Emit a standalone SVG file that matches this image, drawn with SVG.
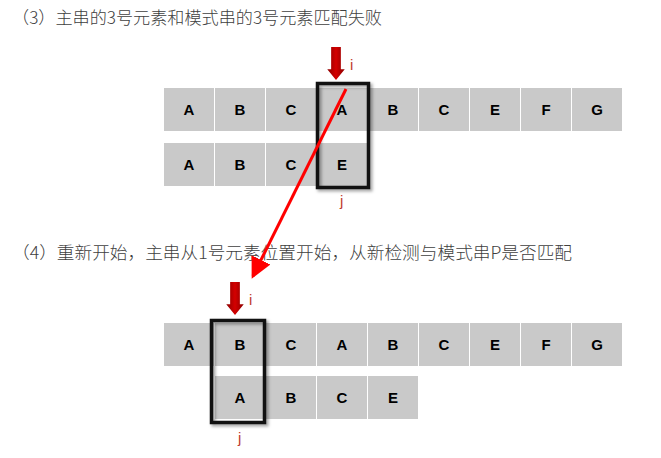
<svg xmlns="http://www.w3.org/2000/svg" width="661" height="458" viewBox="0 0 661 458">
<defs>
<style>
.title{font-family:"Noto Sans CJK SC","Microsoft YaHei",sans-serif;font-size:17px;font-weight:300;fill:#404040}
.cell rect{fill:#c9c9c9}
.cell text{font-family:"Liberation Sans",Arial,sans-serif;font-size:15px;font-weight:bold;fill:#000;text-anchor:middle}
.box{fill:none;stroke:#111;stroke-width:3.5}
.shadow{fill:none;stroke:#000;stroke-opacity:0.35;stroke-width:4;filter:url(#blur)}
.lbl{font-family:"Liberation Sans",Arial,sans-serif;font-size:15px;fill:#c0392b}
.down{fill:url(#redgrad)}
</style>
<linearGradient id="redgrad" x1="0" y1="0" x2="1" y2="0">
<stop offset="0" stop-color="#8b0000"/>
<stop offset="0.5" stop-color="#d40000"/>
<stop offset="1" stop-color="#8b0000"/>
</linearGradient>
<filter id="blur" x="-20%" y="-20%" width="140%" height="140%"><feGaussianBlur stdDeviation="1.5"/></filter>
<marker id="ah" markerWidth="8" markerHeight="8" refX="6" refY="4" orient="auto" markerUnits="strokeWidth">
<path d="M0,0.5 L7,4 L0,7.5 Z" fill="#ff0000"/>
</marker>
<symbol id="dn" viewBox="0 0 18 34" overflow="visible">
<path d="M4,0 H14 V23 H18 L9,34 L0,23 H4 Z"/>
</symbol>
</defs>
<rect width="661" height="458" fill="#fff"/>

<text class="title" x="12" y="24" textLength="370" lengthAdjust="spacingAndGlyphs">（3）主串的3号元素和模式串的3号元素匹配失败</text>
<text class="title" x="12" y="259" textLength="560" lengthAdjust="spacingAndGlyphs">（4）重新开始，主串从1号元素位置开始，从新检测与模式串P是否匹配</text>

<g id="main1" class="cell">
<rect x="164" y="88" width="50" height="43"/><text x="189" y="115">A</text>
<rect x="215" y="88" width="50" height="43"/><text x="240" y="115">B</text>
<rect x="266" y="88" width="50" height="43"/><text x="291" y="115">C</text>
<rect x="317" y="88" width="50" height="43"/><text x="342" y="115">A</text>
<rect x="368" y="88" width="50" height="43"/><text x="393" y="115">B</text>
<rect x="419" y="88" width="50" height="43"/><text x="444" y="115">C</text>
<rect x="470" y="88" width="50" height="43"/><text x="495" y="115">E</text>
<rect x="521" y="88" width="50" height="43"/><text x="546" y="115">F</text>
<rect x="572" y="88" width="50" height="43"/><text x="597" y="115">G</text>
</g>
<g id="pattern1" class="cell">
<rect x="164" y="143" width="50" height="43"/><text x="189" y="170">A</text>
<rect x="215" y="143" width="50" height="43"/><text x="240" y="170">B</text>
<rect x="266" y="143" width="50" height="43"/><text x="291" y="170">C</text>
<rect x="317" y="143" width="50" height="43"/><text x="342" y="170">E</text>
</g>
<g id="box1">
<rect class="shadow" x="319.5" y="85.5" width="51" height="104"/>
<rect class="box" x="317.5" y="83.5" width="51" height="104"/>
</g>
<g id="ptr-i1">
<use href="#dn" class="down" x="327" y="47" width="18" height="33"/>
<text class="lbl" x="350" y="70">i</text>
</g>
<text id="ptr-j1" class="lbl" x="340" y="206">j</text>

<g id="main2" class="cell">
<rect x="164" y="323" width="50" height="43"/><text x="189" y="350">A</text>
<rect x="215" y="323" width="50" height="43"/><text x="240" y="350">B</text>
<rect x="266" y="323" width="50" height="43"/><text x="291" y="350">C</text>
<rect x="317" y="323" width="50" height="43"/><text x="342" y="350">A</text>
<rect x="368" y="323" width="50" height="43"/><text x="393" y="350">B</text>
<rect x="419" y="323" width="50" height="43"/><text x="444" y="350">C</text>
<rect x="470" y="323" width="50" height="43"/><text x="495" y="350">E</text>
<rect x="521" y="323" width="50" height="43"/><text x="546" y="350">F</text>
<rect x="572" y="323" width="50" height="43"/><text x="597" y="350">G</text>
</g>
<g id="pattern2" class="cell">
<rect x="215" y="376" width="50" height="43"/><text x="240" y="403">A</text>
<rect x="266" y="376" width="50" height="43"/><text x="291" y="403">B</text>
<rect x="317" y="376" width="50" height="43"/><text x="342" y="403">C</text>
<rect x="368" y="376" width="50" height="43"/><text x="393" y="403">E</text>
</g>
<g id="box2">
<rect class="shadow" x="213.5" y="322.5" width="53" height="102"/>
<rect class="box" x="211.5" y="320.5" width="53" height="102"/>
</g>
<g id="ptr-i2">
<use href="#dn" class="down" x="226" y="282" width="18" height="33"/>
<text class="lbl" x="249" y="305">i</text>
</g>
<text id="ptr-j2" class="lbl" x="238" y="443">j</text>

<g id="connectors">
<line x1="346" y1="89" x2="253" y2="276" stroke="#ff0000" stroke-width="3" marker-end="url(#ah)"/>
</g>
</svg>
